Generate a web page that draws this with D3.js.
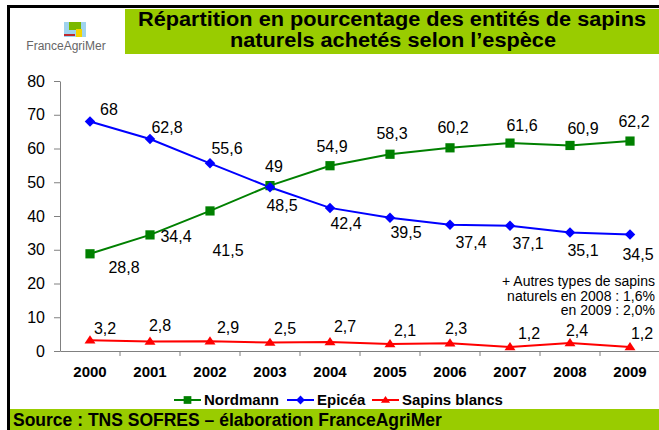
<!doctype html>
<html lang="fr">
<head>
<meta charset="utf-8">
<script src="https://cdn.jsdelivr.net/npm/d3@7"></script>
<style>
  body { margin: 0; background: #fff; }
  svg { font-family: "Liberation Sans", Arial, sans-serif; }
</style>
</head>
<body>
<div id="chart"></div>
<script>
// data
var years = ["2000", "2001", "2002", "2003", "2004", "2005", "2006", "2007", "2008", "2009"];
var nordmann = [28.8, 34.4, 41.5, 49, 54.9, 58.3, 60.2, 61.6, 60.9, 62.2];
var epicea = [68, 62.8, 55.6, 48.5, 42.4, 39.5, 37.4, 37.1, 35.1, 34.5];
var sapinsBlancs = [3.2, 2.8, 2.9, 2.5, 2.7, 2.1, 2.3, 1.2, 2.4, 1.2];
var yTicks = [0, 10, 20, 30, 40, 50, 60, 70, 80];
var noteLines = ["+ Autres types de sapins", "naturels en 2008 : 1,6%", "en 2009 : 2,0%"];

// where each value label sits, relative to its point (centre dx, dy)
var nordOff = [[34,14],[26,1],[18,39],[4,-19],[2,-19],[2,-21],[3,-20],[12,-18],[13,-17],[4,-20]];
var epiOff = [[19,-12],[17,-12],[17,-15],[12,18],[16,15],[16,15],[21,18],[18,18],[13,18],[8,20]];
var sapOff = [[15,-12],[10,-16],[18,-14],[15,-14],[15,-15],[15,-14],[6,-15],[19,-14],[7,-13],[12,-14]];

var W = 659, H = 430;
var svg = d3.select("#chart").append("svg").attr("width", W).attr("height", H);

var x = d3.scaleBand().domain(years).range([60, 660]);
var y = d3.scaleLinear().domain([0, 80]).range([351, 81]);

// frame
svg.append("rect").attr("x", 0).attr("y", 0).attr("width", W).attr("height", H).attr("fill", "#fff");
svg.append("rect").attr("x", 7).attr("y", 5).attr("width", W - 7).attr("height", 3).attr("fill", "#000");
svg.append("rect").attr("x", 7).attr("y", 5).attr("width", 3).attr("height", H - 5).attr("fill", "#000");

// title band
svg.append("rect").attr("x", 125).attr("y", 9).attr("width", W - 125).attr("height", 45).attr("fill", "#99cc00");
svg.append("text").attr("x", 392).attr("y", 26).attr("text-anchor", "middle")
  .attr("textLength", 508).attr("lengthAdjust", "spacingAndGlyphs")
  .style("font-size", "20px").style("font-weight", "bold").text("Répartition en pourcentage des entités de sapins");
svg.append("text").attr("x", 393).attr("y", 47).attr("text-anchor", "middle")
  .attr("textLength", 326).attr("lengthAdjust", "spacingAndGlyphs")
  .style("font-size", "20px").style("font-weight", "bold").text("naturels achetés selon l’espèce");

// logo
var logo = svg.append("g");
logo.append("rect").attr("x", 64).attr("y", 22).attr("width", 22).attr("height", 15).attr("fill", "#9fd3ee");
logo.append("rect").attr("x", 69).attr("y", 22).attr("width", 12).attr("height", 8).attr("fill", "#7ab800");
logo.append("rect").attr("x", 76).attr("y", 29).attr("width", 6).attr("height", 8).attr("fill", "#f2d600");
logo.append("rect").attr("x", 64).attr("y", 34).attr("width", 11).attr("height", 2).attr("fill", "#c0282d");
logo.append("text").attr("x", 66).attr("y", 50).attr("text-anchor", "middle")
  .style("font-size", "12px").attr("fill", "#666").text("FranceAgriMer");

// axes
var yAxis = svg.append("g").attr("transform", "translate(60,0)")
  .call(d3.axisLeft(y).tickValues(yTicks).tickSize(6).tickSizeOuter(0));
yAxis.select(".domain").attr("stroke", "#808080");
yAxis.selectAll(".tick line").attr("stroke", "#808080");
yAxis.selectAll(".tick text").style("font-size", "16px").attr("fill", "#000").attr("x", -15);

var xAxis = svg.append("g").attr("transform", "translate(0,351)")
  .call(d3.axisBottom(x).tickSize(0).tickSizeOuter(0));
xAxis.select(".domain").attr("stroke", "#808080");
xAxis.selectAll(".tick text").style("font-size", "15px").style("font-weight", "bold")
  .attr("fill", "#000").attr("y", 26).attr("dy", 0);
svg.append("g").selectAll("line").data(years).enter().append("line")
  .attr("x1", function(d) { return x(d) + x.bandwidth(); })
  .attr("x2", function(d) { return x(d) + x.bandwidth(); })
  .attr("y1", 351).attr("y2", 356).attr("stroke", "#808080");

var diamond = {
  draw: function(ctx, size) {
    var r = Math.sqrt(size) / 2;
    ctx.moveTo(0, -r); ctx.lineTo(r, 0); ctx.lineTo(0, r); ctx.lineTo(-r, 0); ctx.closePath();
  }
};
var triangle = {
  draw: function(ctx, size) {
    var w = Math.sqrt(size) / 2, h = w * 1.5;
    ctx.moveTo(0, -h * 0.6); ctx.lineTo(w, h * 0.4); ctx.lineTo(-w, h * 0.4); ctx.closePath();
  }
};

var series = [
  { name: "Nordmann", values: nordmann, color: "#008000", symbol: d3.symbolSquare, size: 85, off: nordOff },
  { name: "Epicéa", values: epicea, color: "#0000ff", symbol: diamond, size: 110, off: epiOff },
  { name: "Sapins blancs", values: sapinsBlancs, color: "#ff0000", symbol: triangle, size: 120, off: sapOff }
];

var cx = function(i) { return x(years[i]) + x.bandwidth() / 2; };
var fmt = function(v) { return String(v).replace(".", ","); };

series.forEach(function(s) {
  var line = d3.line().x(function(d, i) { return cx(i); }).y(function(d) { return y(d); });
  svg.append("path").datum(s.values).attr("d", line)
    .attr("fill", "none").attr("stroke", s.color).attr("stroke-width", 2);
});

series.forEach(function(s) {
  svg.append("g").selectAll("path").data(s.values).enter().append("path")
    .attr("d", d3.symbol().type(s.symbol).size(s.size))
    .attr("transform", function(d, i) { return "translate(" + cx(i) + "," + y(d) + ")"; })
    .attr("fill", s.color);
  svg.append("g").selectAll("text").data(s.values).enter().append("text")
    .attr("x", function(d, i) { return cx(i) + s.off[i][0]; })
    .attr("y", function(d, i) { return y(d) + s.off[i][1]; })
    .attr("dy", "0.35em").attr("text-anchor", "middle")
    .style("font-size", "16px").text(fmt);
});

// note
svg.append("g").selectAll("text").data(noteLines).enter().append("text")
  .attr("x", 655).attr("y", function(d, i) { return 286 + i * 14.5; })
  .attr("text-anchor", "end").style("font-size", "14px").text(function(d) { return d; });

// legend
var legX = [174, 287, 372];
var leg = svg.append("g").selectAll("g").data(series).enter().append("g")
  .attr("transform", function(d, i) { return "translate(" + legX[i] + ",400)"; });
leg.append("line").attr("x1", 0).attr("x2", 27).attr("stroke", function(d) { return d.color; }).attr("stroke-width", 2);
leg.append("path").attr("transform", "translate(13.5,0)")
  .attr("d", function(d) { return d3.symbol().type(d.symbol).size(d.size * 0.7)(); })
  .attr("fill", function(d) { return d.color; });
leg.append("text").attr("x", 30).attr("dy", "0.36em").style("font-size", "15px").style("font-weight", "bold")
  .text(function(d) { return d.name; });

// source band
svg.append("rect").attr("x", 10).attr("y", 409).attr("width", W - 10).attr("height", 21).attr("fill", "#99cc00");
svg.append("text").attr("x", 13).attr("y", 426).style("font-size", "17.5px").style("font-weight", "bold")
  .text("Source : TNS SOFRES – élaboration FranceAgriMer");
</script>
</body>
</html>
